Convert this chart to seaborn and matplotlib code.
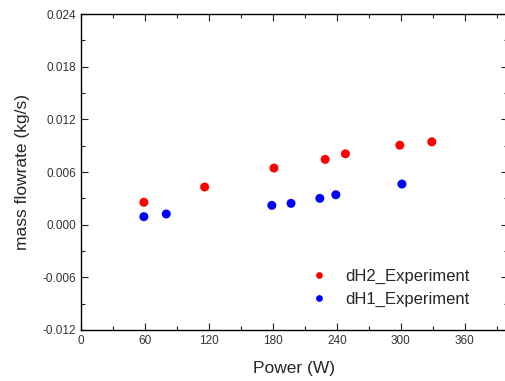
import numpy as np
import pandas as pd
import matplotlib
matplotlib.use("Agg")
import matplotlib.pyplot as plt
from matplotlib.ticker import MultipleLocator, FormatStrFormatter
import seaborn as sns

# dH2 experiment points
dh2_power = [59, 116, 181, 229, 248, 299, 329]
dh2_flow = [0.00255, 0.00429, 0.00645, 0.00744, 0.00808, 0.00906, 0.00944]

# dH1 experiment points
dh1_power = [59, 80, 179, 197, 224, 239, 301]
dh1_flow = [0.00091, 0.00122, 0.0022, 0.00243, 0.0030, 0.00341, 0.00463]

series_names = ["dH2_Experiment", "dH1_Experiment"]
series_colors = ["#ff0000", "#0000ff"]

df = pd.DataFrame({
    "power": dh2_power + dh1_power,
    "flow": dh2_flow + dh1_flow,
    "series": [series_names[0]] * len(dh2_power) + [series_names[1]] * len(dh1_power),
})

sns.set_style("ticks")
plt.rcParams['font.family'] = ['Liberation Sans', 'DejaVu Sans']

fig = plt.figure(figsize=(5.06, 3.81), dpi=100)
ax = fig.add_axes([0.160, 0.134, 0.843, 0.829])

sns.scatterplot(data=df, x="power", y="flow", hue="series",
                hue_order=series_names,
                palette=dict(zip(series_names, series_colors)),
                s=42, linewidth=0, ax=ax)

ax.set_xlim(0, 400)
ax.set_ylim(-0.012, 0.024)
ax.xaxis.set_major_locator(MultipleLocator(60))
ax.xaxis.set_minor_locator(MultipleLocator(30))
ax.yaxis.set_major_locator(MultipleLocator(0.006))
ax.yaxis.set_minor_locator(MultipleLocator(0.003))
ax.yaxis.set_major_formatter(FormatStrFormatter('%.3f'))

ax.tick_params(which='both', direction='in', top=True, right=True,
               labelsize=8.5, labelcolor='#333333', color='#222222')
ax.tick_params(which='major', length=5, width=0.8)
ax.tick_params(which='minor', length=3, width=0.8)
for sp in ax.spines.values():
    sp.set_visible(True)
    sp.set_color('black')
    sp.set_linewidth(1.0)

ax.set_xlabel("Power (W)", fontsize=12.5, labelpad=10)
ax.set_ylabel("mass flowrate (kg/s)", fontsize=12.5, labelpad=9)

ax.legend(loc='upper left', bbox_to_anchor=(0.484, 0.24), frameon=False,
          fontsize=12, handletextpad=0.56, labelspacing=0.45, markerscale=0.75)

fig.savefig("out.png", dpi=100)
